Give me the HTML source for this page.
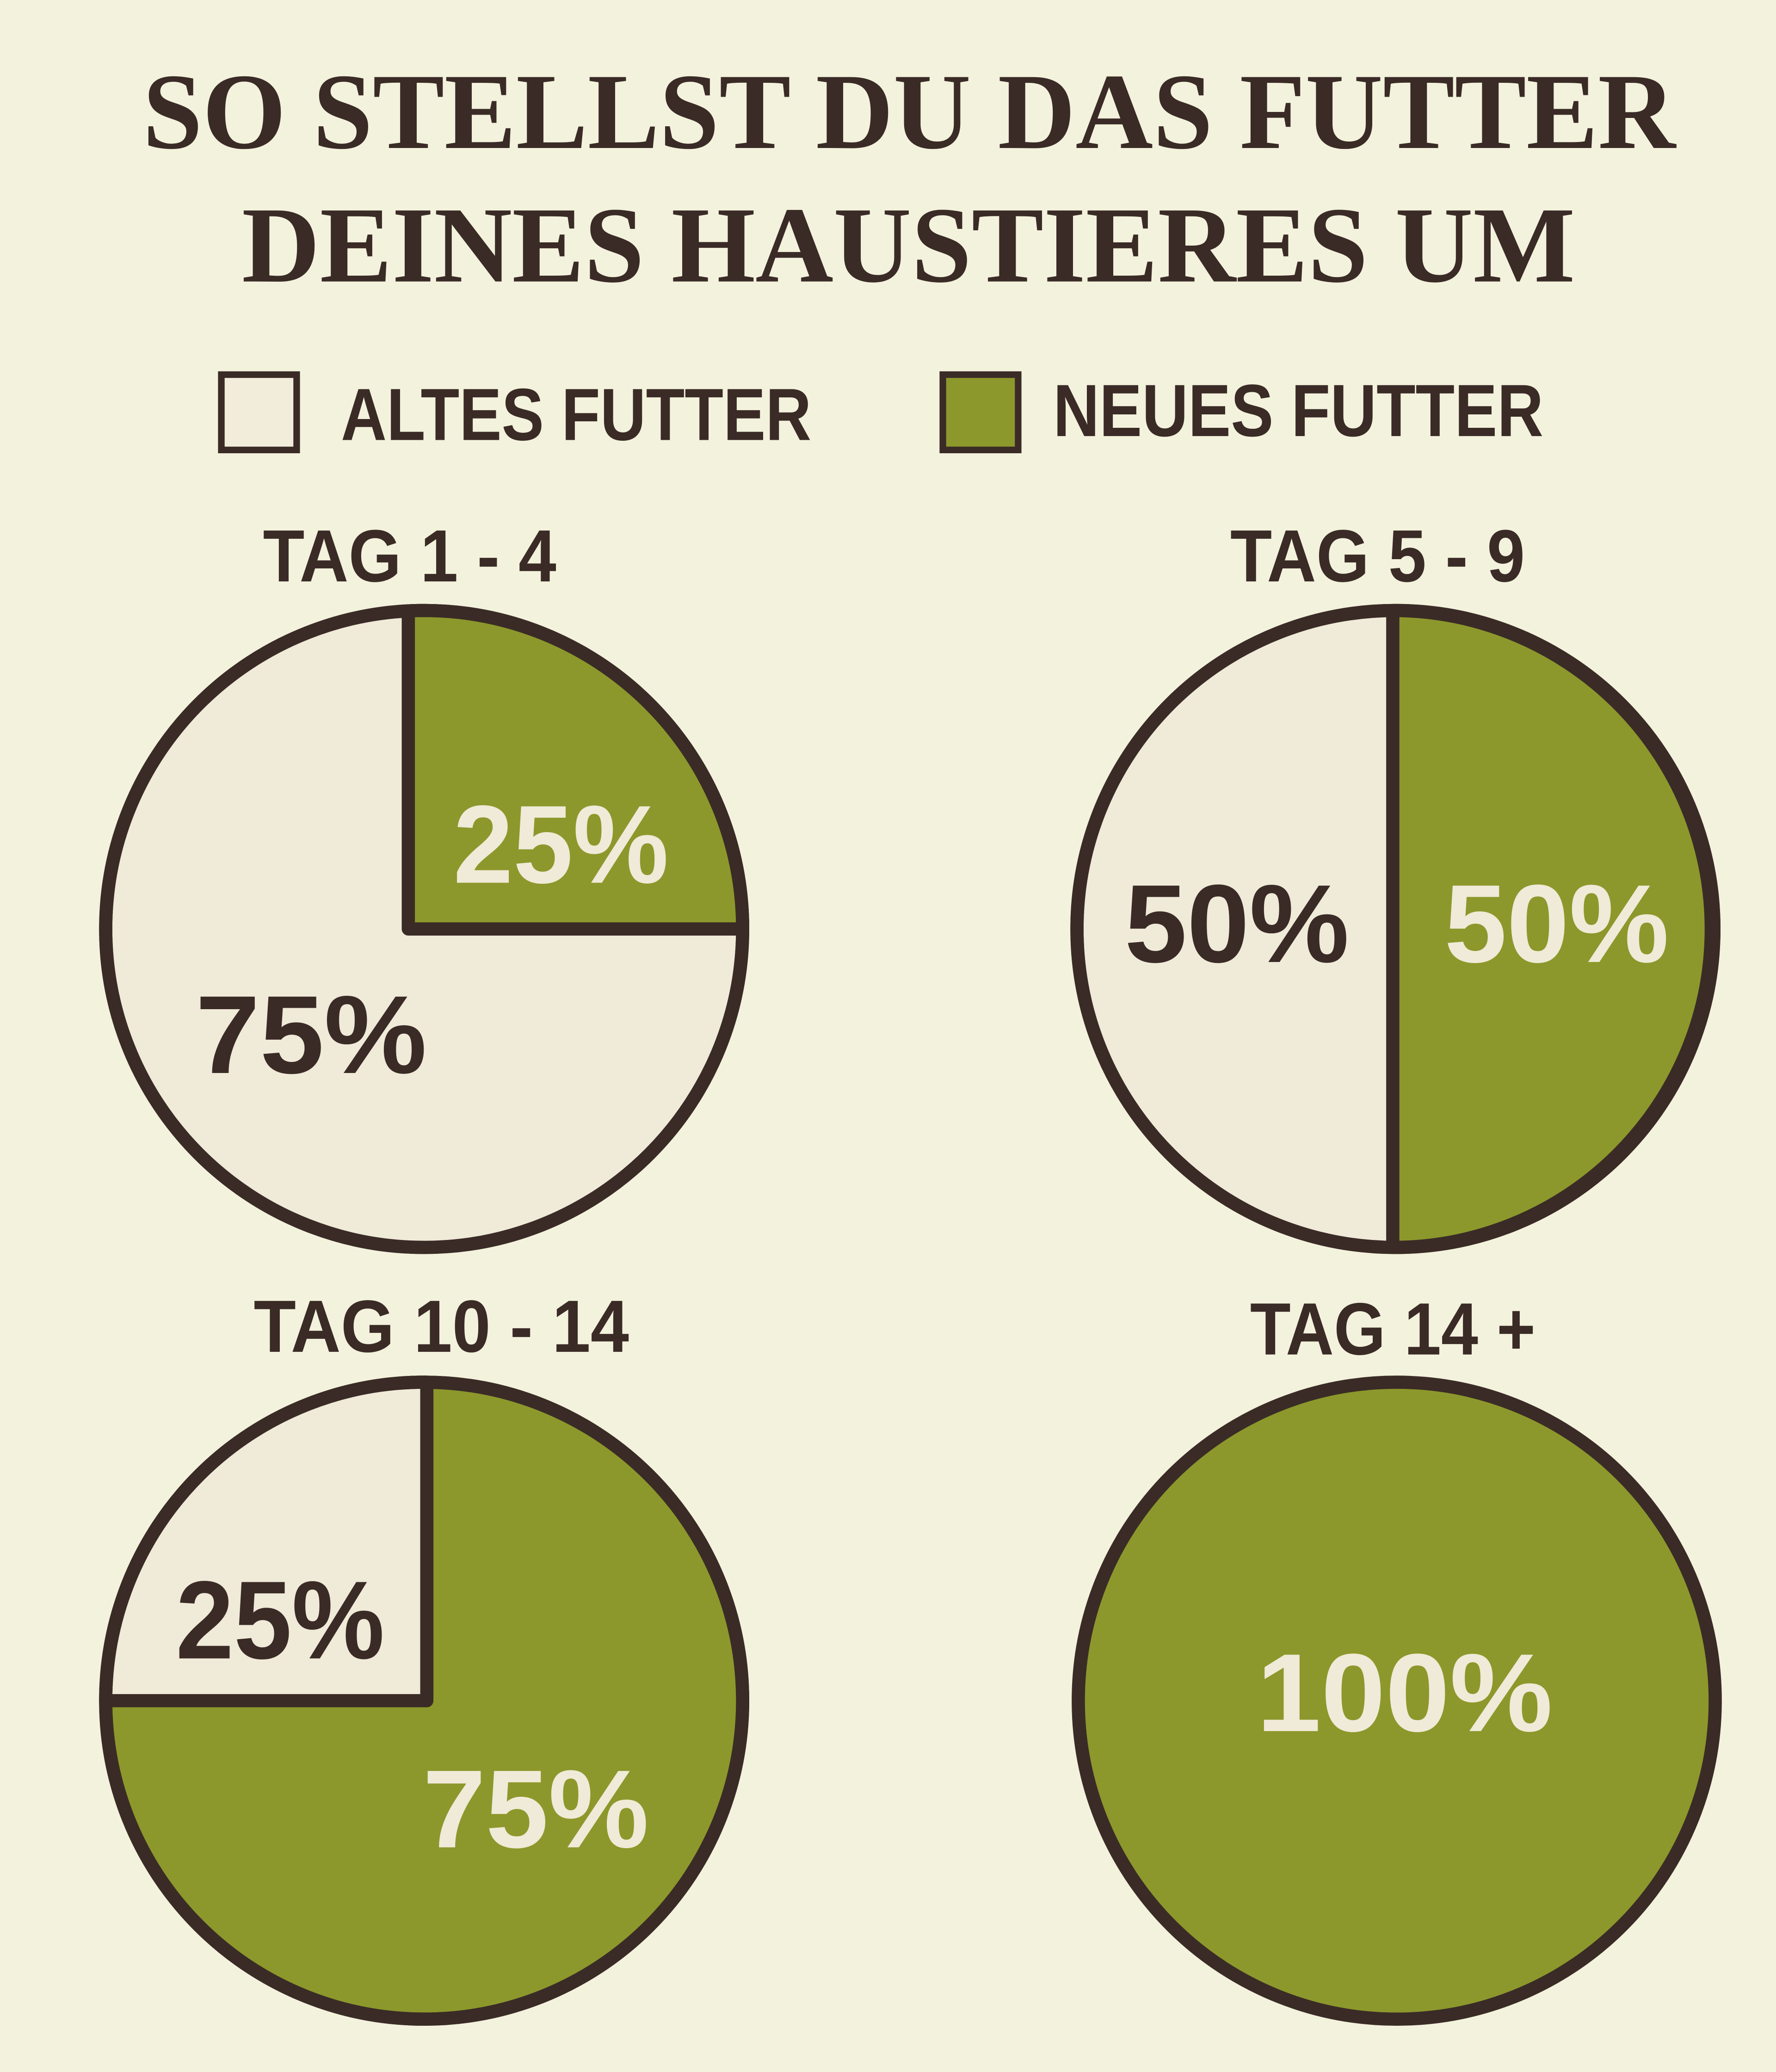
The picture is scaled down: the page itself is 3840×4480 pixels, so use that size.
<!DOCTYPE html>
<html><head><meta charset="utf-8"><style>
html,body{margin:0;padding:0;background:#f3f2dc;}
svg{display:block;}
</style></head><body>
<svg width="3840" height="4480" viewBox="0 0 1344 1568" xmlns="http://www.w3.org/2000/svg">
<rect width="1344" height="1568" fill="#f3f2dc"/>
<g font-family="'Liberation Serif',serif" font-weight="bold" fill="#3a2b27" font-size="82">
<text x="108" y="112" textLength="1160" lengthAdjust="spacingAndGlyphs">SO STELLST DU DAS FUTTER</text>
<text x="183" y="213" textLength="1009" lengthAdjust="spacingAndGlyphs">DEINES HAUSTIERES UM</text>
</g>
<rect x="167.5" y="283.5" width="57" height="57" fill="#f2eddb" stroke="#3a2b27" stroke-width="5"/>
<rect x="713.5" y="283.5" width="57" height="57" fill="#8c982b" stroke="#3a2b27" stroke-width="5"/>
<g font-family="'Liberation Sans',sans-serif" font-weight="bold" fill="#3a2b27" font-size="56">
<text x="258" y="333" textLength="356" lengthAdjust="spacingAndGlyphs">ALTES FUTTER</text>
<text x="797" y="330" textLength="371" lengthAdjust="spacingAndGlyphs">NEUES FUTTER</text>
<text x="199" y="440" textLength="222" lengthAdjust="spacingAndGlyphs">TAG 1 - 4</text>
<text x="931" y="440" textLength="223" lengthAdjust="spacingAndGlyphs">TAG 5 - 9</text>
<text x="192" y="1023" textLength="284" lengthAdjust="spacingAndGlyphs">TAG 10 - 14</text>
<text x="946" y="1025" textLength="216" lengthAdjust="spacingAndGlyphs">TAG 14 +</text>
</g>
<g stroke="#3a2b27" stroke-width="10" stroke-linejoin="round">
<circle cx="321" cy="703" r="241" fill="#f0ead8"/>
<path d="M309 703 L309 462.3 A241 241 0 0 1 562 703 Z" fill="#8c982b"/>
<circle cx="321" cy="703" r="241" fill="none"/>
<circle cx="1056" cy="703" r="241" fill="#f0ead8"/>
<path d="M1054 462 A241 241 0 0 1 1054 944 Z" fill="#8c982b"/>
<circle cx="1056" cy="703" r="241" fill="none"/>
<circle cx="321" cy="1287" r="241" fill="#8c982b"/>
<path d="M323 1287 L323 1046 A241 241 0 0 0 80 1287 Z" fill="#f0ead8"/>
<circle cx="321" cy="1287" r="241" fill="none"/>
<circle cx="1057" cy="1287" r="241" fill="#8c982b"/>
</g>
<g font-family="'Liberation Sans',sans-serif" font-weight="bold" font-size="84">
<text x="343" y="668" fill="#f0ead8" textLength="163" lengthAdjust="spacingAndGlyphs">25%</text>
<text x="148" y="812" fill="#3a2b27" textLength="175" lengthAdjust="spacingAndGlyphs">75%</text>
<text x="851" y="728" fill="#3a2b27" textLength="170" lengthAdjust="spacingAndGlyphs">50%</text>
<text x="1093" y="728" fill="#f0ead8" textLength="170" lengthAdjust="spacingAndGlyphs">50%</text>
<text x="133" y="1255" fill="#3a2b27" textLength="158" lengthAdjust="spacingAndGlyphs">25%</text>
<text x="320" y="1398" fill="#f0ead8" textLength="171" lengthAdjust="spacingAndGlyphs">75%</text>
<text x="951" y="1310" fill="#f0ead8" textLength="224" lengthAdjust="spacingAndGlyphs">100%</text>
</g>
</svg>
</body></html>
